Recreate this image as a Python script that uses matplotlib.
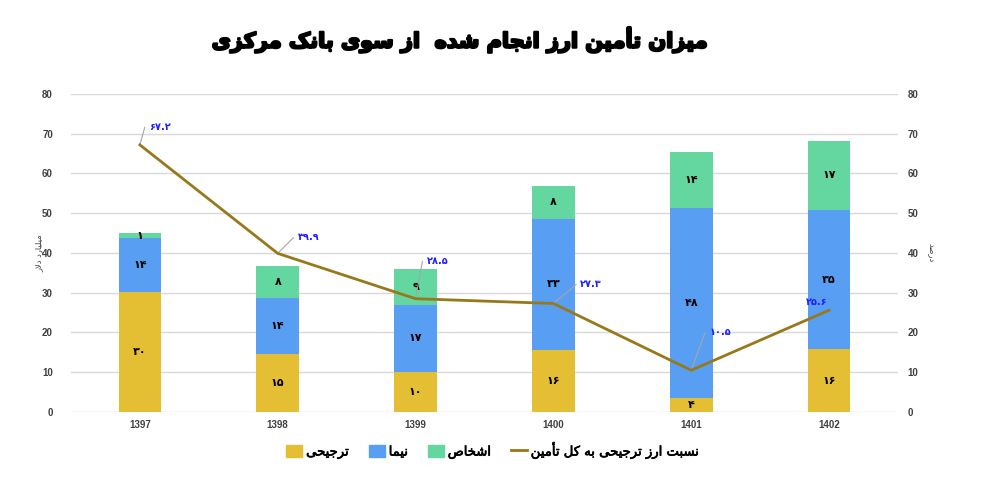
import math

import matplotlib

matplotlib.use("Agg")
import matplotlib.pyplot as plt
import matplotlib.patheffects as pe
from matplotlib.lines import Line2D
from matplotlib.patches import Patch

# ---- data ----
years = ["1397", "1398", "1399", "1400", "1401", "1402"]
tarjihi = [30.2, 14.6, 10.1, 15.6, 3.6, 15.8]  # yellow
nima = [13.6, 14.1, 16.8, 33.0, 47.6, 35.0]  # blue
ashkhas = [1.2, 8.0, 9.1, 8.3, 14.1, 17.4]  # green
share = [67.2, 39.9, 28.5, 27.3, 10.5, 25.6]  # line, right axis (percent)

title = "میزان تأمین ارز انجام شده  از سوی بانک مرکزی"
left_label = "میلیارد دلار"
right_label = "درصد"
legend_names = ["ترجیحی", "نیما", "اشخاص", "نسبت ارز ترجیحی به کل تأمین"]

# leader offsets (pixels) for line labels: (dx, dy, leader)
share_offsets = [(9, 18, True), (20, 16, True), (11, 38, True),
                 (27, 19, True), (18, 38, True), (-2, 8, False)]

C_YELLOW = "#E5BF33"
C_BLUE = "#589FF3"
C_GREEN = "#64D6A0"
C_LINE = "#97791B"
C_GRID = "#D9D9D9"
C_TICK = "#404040"

# ---- minimal arabic/persian shaping (matplotlib has no bidi) ----
FORMS = {
    "\u0622": ("\uFE81", "\uFE82", None, None),
    "\u0623": ("\uFE83", "\uFE84", None, None),
    "\u0627": ("\uFE8D", "\uFE8E", None, None),
    "\u0628": ("\uFE8F", "\uFE90", "\uFE91", "\uFE92"),
    "\u067E": ("\uFB56", "\uFB57", "\uFB58", "\uFB59"),
    "\u062A": ("\uFE95", "\uFE96", "\uFE97", "\uFE98"),
    "\u062B": ("\uFE99", "\uFE9A", "\uFE9B", "\uFE9C"),
    "\u062C": ("\uFE9D", "\uFE9E", "\uFE9F", "\uFEA0"),
    "\u0686": ("\uFB7A", "\uFB7B", "\uFB7C", "\uFB7D"),
    "\u062D": ("\uFEA1", "\uFEA2", "\uFEA3", "\uFEA4"),
    "\u062E": ("\uFEA5", "\uFEA6", "\uFEA7", "\uFEA8"),
    "\u062F": ("\uFEA9", "\uFEAA", None, None),
    "\u0630": ("\uFEAB", "\uFEAC", None, None),
    "\u0631": ("\uFEAD", "\uFEAE", None, None),
    "\u0632": ("\uFEAF", "\uFEB0", None, None),
    "\u0698": ("\uFB8A", "\uFB8B", None, None),
    "\u0633": ("\uFEB1", "\uFEB2", "\uFEB3", "\uFEB4"),
    "\u0634": ("\uFEB5", "\uFEB6", "\uFEB7", "\uFEB8"),
    "\u0635": ("\uFEB9", "\uFEBA", "\uFEBB", "\uFEBC"),
    "\u0636": ("\uFEBD", "\uFEBE", "\uFEBF", "\uFEC0"),
    "\u0637": ("\uFEC1", "\uFEC2", "\uFEC3", "\uFEC4"),
    "\u0638": ("\uFEC5", "\uFEC6", "\uFEC7", "\uFEC8"),
    "\u0639": ("\uFEC9", "\uFECA", "\uFECB", "\uFECC"),
    "\u063A": ("\uFECD", "\uFECE", "\uFECF", "\uFED0"),
    "\u0641": ("\uFED1", "\uFED2", "\uFED3", "\uFED4"),
    "\u0642": ("\uFED5", "\uFED6", "\uFED7", "\uFED8"),
    "\u06A9": ("\uFB8E", "\uFB8F", "\uFB90", "\uFB91"),
    "\u06AF": ("\uFB92", "\uFB93", "\uFB94", "\uFB95"),
    "\u0644": ("\uFEDD", "\uFEDE", "\uFEDF", "\uFEE0"),
    "\u0645": ("\uFEE1", "\uFEE2", "\uFEE3", "\uFEE4"),
    "\u0646": ("\uFEE5", "\uFEE6", "\uFEE7", "\uFEE8"),
    "\u0647": ("\uFEE9", "\uFEEA", "\uFEEB", "\uFEEC"),
    "\u0648": ("\uFEED", "\uFEEE", None, None),
    "\u06CC": ("\uFBFC", "\uFBFD", "\uFBFE", "\uFBFF"),
}
LAM_ALEF = {
    "\u0627": ("\uFEFB", "\uFEFC"),
    "\u0623": ("\uFEF7", "\uFEF8"),
    "\u0622": ("\uFEF5", "\uFEF6"),
}


def fa(text):
    out = []
    i, n = 0, len(text)
    while i < n:
        ch = text[i]
        if ch not in FORMS:
            out.append(ch)
            i += 1
            continue
        prev = text[i - 1] if i > 0 else ""
        nxt = text[i + 1] if i + 1 < n else ""
        joins_prev = prev in FORMS and FORMS[prev][2] is not None
        if ch == "\u0644" and nxt in LAM_ALEF:
            out.append(LAM_ALEF[nxt][1 if joins_prev else 0])
            i += 2
            continue
        iso, fin, ini, med = FORMS[ch]
        joins_next = ini is not None and nxt in FORMS
        if joins_prev and joins_next:
            out.append(med)
        elif joins_prev:
            out.append(fin)
        elif joins_next:
            out.append(ini)
        else:
            out.append(iso)
        i += 1
    return "".join(reversed(out))


FA_DIGITS = str.maketrans("0123456789", "۰۱۲۳۴۵۶۷۸۹")


def fa_num(s):
    return str(s).translate(FA_DIGITS)


# ---- figure ----
fig = plt.figure(figsize=(9.83, 4.83), dpi=100)
ax = fig.add_axes([0.0722, 0.147, 0.8413, 0.6584])
ax2 = ax.twinx()

x = list(range(len(years)))
width = 0.31
bottoms2 = [a + b for a, b in zip(tarjihi, nima)]

b1 = ax.bar(x, tarjihi, width, color=C_YELLOW, zorder=2)
b2 = ax.bar(x, nima, width, bottom=tarjihi, color=C_BLUE, zorder=2)
b3 = ax.bar(x, ashkhas, width, bottom=bottoms2, color=C_GREEN, zorder=2)

for bars in (b1, b2, b3):
    for rect in bars:
        h = rect.get_height()
        ax.text(rect.get_x() + rect.get_width() / 2, rect.get_y() + h / 2,
                fa_num(int(round(h))), ha="center", va="center",
                fontsize=8, fontweight="bold", color="black",
                family="DejaVu Sans", zorder=3)

ax.set_xlim(-0.5, len(years) - 0.5)
ax.set_ylim(0, 80)
ax.set_yticks(range(0, 81, 10))
ax.set_xticks(x)
ax.set_xticklabels(years)
ax.grid(axis="y", color=C_GRID, linewidth=1, zorder=0)
ax.set_axisbelow(True)
for sp in ax.spines.values():
    sp.set_visible(False)
for sp in ax2.spines.values():
    sp.set_visible(False)
ax.tick_params(axis="y", length=0, pad=13, labelsize=7, labelcolor=C_TICK)
ax.tick_params(axis="x", length=0, pad=6, labelsize=7, labelcolor=C_TICK)
for lab in ax.get_yticklabels() + ax.get_xticklabels():
    lab.set_fontweight("bold")
    lab.set_family("Liberation Sans")

ax2.set_ylim(0, 80)
ax2.set_yticks(range(0, 81, 10))
ax2.tick_params(axis="y", length=0, pad=7, labelsize=7, labelcolor=C_TICK)
for lab in ax2.get_yticklabels():
    lab.set_fontweight("bold")
    lab.set_family("Liberation Sans")

ax2.plot(x, share, color=C_LINE, linewidth=2, zorder=4)

for xi, v, (dx, dy, leader) in zip(x, share, share_offsets):
    kw = dict(textcoords="offset pixels", xytext=(dx, dy), fontsize=7,
              fontweight="bold", color="#1F1FFF", va="center",
              ha="left" if dx > 0 else "right", family="DejaVu Sans")
    if leader:
        ang = math.degrees(math.atan2(dy, max(dx - 4, 0.5)))
        kw["arrowprops"] = dict(arrowstyle="-", color="#A6A6A6", lw=0.8,
                                shrinkA=1, shrinkB=0, relpos=(0, 0.5),
                                connectionstyle=f"angle,angleA=0,angleB={ang:.1f},rad=0")
    ax2.annotate(fa_num(f"{v:.1f}"), xy=(xi, v), **kw)

ax.set_ylabel(fa(left_label), fontsize=6, color=C_TICK, family="DejaVu Sans",
              labelpad=-1)
ax2.set_ylabel(fa(right_label), fontsize=6, color=C_TICK, family="DejaVu Sans",
               rotation=-90, labelpad=12)

fig.text(0.468, 0.918, fa(title), ha="center", va="center", fontsize=15,
         fontweight="bold", family="DejaVu Sans",
         path_effects=[pe.withStroke(linewidth=1.6, foreground="black")])

handles = [Patch(color=C_YELLOW), Patch(color=C_BLUE), Patch(color=C_GREEN),
           Line2D([], [], color=C_LINE, linewidth=2)]
leg = fig.legend(handles, [fa(s) for s in legend_names], loc="center",
                 bbox_to_anchor=(0.502, 0.068), ncol=4, frameon=False,
                 prop={"family": "DejaVu Sans", "size": 9.5},
                 handlelength=1.2, handleheight=1.0, handletextpad=0.3,
                 columnspacing=1.5)
for t in leg.get_texts():
    t.set_path_effects([pe.withStroke(linewidth=0.5, foreground="black")])

fig.savefig("out.png", dpi=100)
